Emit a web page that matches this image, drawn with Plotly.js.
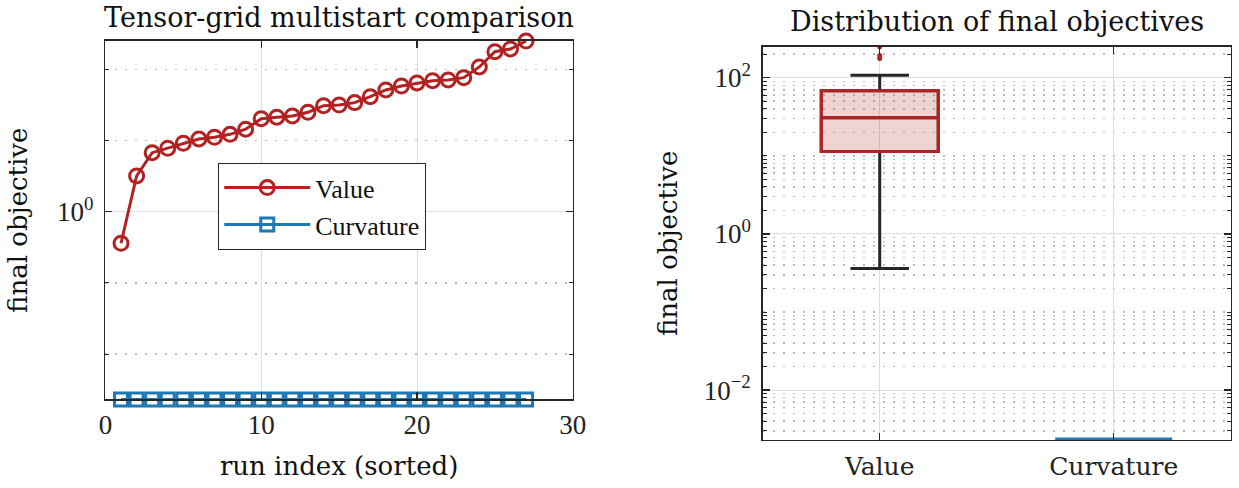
<!DOCTYPE html>
<html><head><meta charset="utf-8">
<script src="https://cdn.plot.ly/plotly-3.0.1.min.js"></script>
<style>body{margin:0;background:#fff}#chart{width:1239px;height:488px}</style>
</head><body><div id="chart"></div>
<script>
// ---- data ----
const runIndex = [1,2,3,4,5,6,7,8,9,10,11,12,13,14,15,16,17,18,19,20,21,22,23,24,25,26,27];
const valueObjective = [0.36,3.17,6.74,7.77,9.14,10.5,11.1,12.2,14.4,20.2,21.2,22.1,24.9,30.8,31.5,34.0,41.2,51.2,58.2,64.2,69.2,70.8,76.3,107.8,176.6,192.8,249.6];
const curvatureObjective = [0.0023,0.0023,0.0023,0.0023,0.0023,0.0023,0.0023,0.0023,0.0023,0.0023,0.0023,0.0023,0.0023,0.0023,0.0023,0.0023,0.0023,0.0023,0.0023,0.0023,0.0023,0.0023,0.0023,0.0023,0.0023,0.0023,0.0023];
const seriesNames = ['Value', 'Curvature'];
const boxCategories = ['Value', 'Curvature'];
const xTickVals = [0, 10, 20, 30];
const leftYTickVals = [1];
const leftYTickText = ['10<sup>0</sup>'];
const leftYMinorVals = [0.01, 0.1, 10, 100];
const rightYTickVals = [0.01, 1, 100];
const rightYTickText = ['10<sup>\u22122</sup>', '10<sup>0</sup>', '10<sup>2</sup>'];

// ---- helpers ----
const RED = '#b22222', BLUE = '#1f77b4', AX = '#262626';
const SERIF = 'DejaVu Serif, serif', TIMES = 'Liberation Serif, serif';
const allVals = valueObjective.concat(curvatureObjective);
const yRange = [Math.log10(Math.min(...allVals)), Math.log10(Math.max(...allVals))];
function interp(sorted, p) { // same as plotly 'linear' quartile method
  let n = p * sorted.length - 0.5;
  if (n < 0) return sorted[0];
  if (n > sorted.length - 1) return sorted[sorted.length - 1];
  const f = n % 1;
  return f * sorted[Math.ceil(n)] + (1 - f) * sorted[Math.floor(n)];
}
const sortedVal = valueObjective.slice().sort((a, b) => a - b);
const q1 = interp(sortedVal, 0.25), med = interp(sortedVal, 0.5), q3 = interp(sortedVal, 0.75);
// minor log grid for right panel: 1..9 x 10^k, excluding major ticks
const rightMinor = [];
for (let k = -3; k <= 2; k++) for (let m = 1; m <= 9; m++) {
  const v = m * Math.pow(10, k);
  const lv = Math.log10(v);
  if (lv >= yRange[0] && lv <= yRange[1] && !rightYTickVals.some(t => Math.abs(Math.log10(t) - lv) < 1e-9)) rightMinor.push(v);
}

const traces = [
  {x: runIndex, y: valueObjective, name: seriesNames[0], type: 'scatter', mode: 'lines+markers',
   line: {color: RED, width: 3}, marker: {symbol: 'circle-open', size: 14, color: RED, line: {width: 3, color: RED}},
   cliponaxis: false, xaxis: 'x', yaxis: 'y'},
  {x: runIndex, y: curvatureObjective, name: seriesNames[1], type: 'scatter', mode: 'lines+markers',
   line: {color: BLUE, width: 3}, marker: {symbol: 'square-open', size: 13, color: BLUE, line: {width: 3, color: BLUE}},
   cliponaxis: false, xaxis: 'x', yaxis: 'y'},
  // Value box: whiskers (black) + outliers
  {type: 'box', y: valueObjective, name: boxCategories[0], x0: boxCategories[0], xaxis: 'x2', yaxis: 'y2',
   line: {color: AX, width: 3}, fillcolor: 'rgba(0,0,0,0)', whiskerwidth: 0.5, width: 0.5,
   boxpoints: 'outliers', jitter: 0, pointpos: 0, marker: {color: RED, size: 5, line: {width: 0}},
   showlegend: false, hoverinfo: 'skip'},
  // Value box body (red) from quartiles of the same data
  {type: 'box', x: [boxCategories[0]], q1: [q1], median: [med], q3: [q3], lowerfence: [q1], upperfence: [q3],
   xaxis: 'x2', yaxis: 'y2', line: {color: RED, width: 3}, fillcolor: 'rgba(178,34,34,0.2)', whiskerwidth: 0, width: 0.5,
   showlegend: false, hoverinfo: 'skip'},
  // Curvature box
  {type: 'box', y: curvatureObjective, name: boxCategories[1], x0: boxCategories[1], xaxis: 'x2', yaxis: 'y2',
   line: {color: BLUE, width: 5}, fillcolor: 'rgba(31,119,180,0.2)', whiskerwidth: 0.5, width: 0.5,
   boxpoints: 'outliers', marker: {color: BLUE, size: 5}, showlegend: false, hoverinfo: 'skip'}
];

const common = {showline: true, linecolor: AX, linewidth: 1.5, mirror: 'allticks', ticks: 'inside', ticklen: 7,
  tickwidth: 1.3, tickcolor: AX, zeroline: false, showgrid: true, gridcolor: '#dedede', gridwidth: 1, automargin: false};
const minorDot = {showgrid: true, griddash: '2px,8px', gridcolor: '#bcbcbc', gridwidth: 1.5, ticks: 'inside', ticklen: 4, tickcolor: AX, tickwidth: 1};

const layout = {
  width: 1239, height: 488, margin: {l: 0, r: 0, t: 0, b: 0}, paper_bgcolor: '#fff', plot_bgcolor: '#fff',
  showlegend: true, boxmode: 'overlay',
  font: {family: SERIF, color: '#111', size: 24},
  xaxis: Object.assign({}, common, {domain: [0.0851, 0.4623], range: [0, 30], tickmode: 'array', tickvals: xTickVals,
    tickfont: {family: TIMES, size: 27, color: '#222'}, anchor: 'y', ticklabelstandoff: 1,
    title: {text: 'run index (sorted)', font: {family: SERIF, size: 26, color: '#111'}, standoff: 17}}),
  yaxis: Object.assign({}, common, {domain: [0.1814, 0.9160], type: 'log', range: yRange, tickmode: 'array',
    tickvals: leftYTickVals, ticktext: leftYTickText, tickfont: {family: TIMES, size: 27, color: '#222'}, anchor: 'x',
    ticklabelstandoff: 5,
    minor: Object.assign({}, minorDot, {tickmode: 'array', tickvals: leftYMinorVals}),
    title: {text: 'final objective', font: {family: SERIF, size: 26, color: '#111'}, standoff: 22}}),
  xaxis2: Object.assign({}, common, {domain: [0.6156, 0.9933], type: 'category', categoryorder: 'array',
    categoryarray: boxCategories, range: [-0.5, 1.5], tickfont: {family: SERIF, size: 25, color: '#222'}, anchor: 'y2',
    ticklabelstandoff: 4}),
  yaxis2: Object.assign({}, common, {domain: [0.0984, 0.9043], type: 'log', range: yRange, tickmode: 'array',
    tickvals: rightYTickVals, ticktext: rightYTickText, tickfont: {family: TIMES, size: 27, color: '#222'}, anchor: 'x2',
    ticklabelstandoff: 5,
    minor: Object.assign({}, minorDot, {tickmode: 'array', tickvals: rightMinor}),
    title: {text: 'final objective', font: {family: SERIF, size: 26, color: '#111'}, standoff: 18}}),
  legend: {x: 0.176, y: 0.666, xanchor: 'left', yanchor: 'top', bgcolor: '#fff', bordercolor: AX, borderwidth: 1.2,
    font: {family: TIMES, size: 26, color: '#111'}, itemwidth: 86, tracegroupgap: 0},
  annotations: [
    {text: 'Tensor-grid multistart comparison', xref: 'x domain', yref: 'y domain', x: 0.5, y: 1, xanchor: 'center', yanchor: 'bottom',
     yshift: 6, showarrow: false, font: {family: SERIF, size: 27, color: '#111'}},
    {text: 'Distribution of final objectives', xref: 'x2 domain', yref: 'y2 domain', x: 0.5, y: 1, xanchor: 'center', yanchor: 'bottom',
     yshift: 8, showarrow: false, font: {family: SERIF, size: 27, color: '#111'}}
  ]
};
Plotly.newPlot('chart', traces, layout, {displayModeBar: false, staticPlot: true});
</script></body></html>
